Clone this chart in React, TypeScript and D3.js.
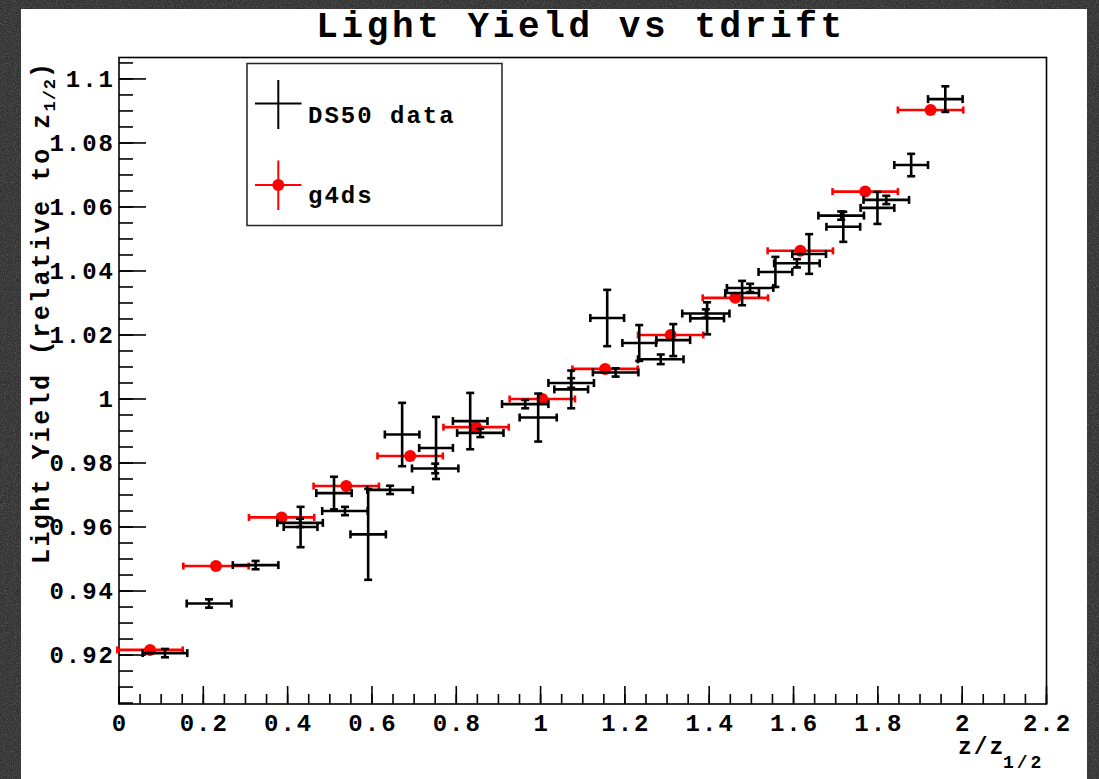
import React from "react";
import * as d3 from "d3";

// ---------------- data ----------------
const titleText = "Light Yield vs tdrift";

// DS50 data (fine-binned set: small vertical errors)
const dsFineX = [0.109, 0.2136, 0.324, 0.4295, 0.536, 0.643, 0.75, 0.857, 0.9635, 1.0726, 1.178, 1.285, 1.392, 1.497, 1.608, 1.713, 1.82];
const dsFineY = [0.9206, 0.9361, 0.9481, 0.9613, 0.965, 0.9716, 0.9783, 0.9894, 0.9984, 1.005, 1.0083, 1.0124, 1.0267, 1.0347, 1.0424, 1.0573, 1.0622];
const dsFineXErr = [0.053, 0.053, 0.054, 0.054, 0.054, 0.054, 0.055, 0.055, 0.055, 0.054, 0.054, 0.054, 0.056, 0.055, 0.054, 0.054, 0.054];
const dsFineYErr = [0.0013, 0.0013, 0.0013, 0.0013, 0.0013, 0.0013, 0.0015, 0.0013, 0.0013, 0.0015, 0.0013, 0.0015, 0.0013, 0.0013, 0.0013, 0.0013, 0.0013];

// DS50 data (second set: larger vertical errors)
const dsWideX = [0.4307, 0.51, 0.591, 0.6716, 0.752, 0.833, 0.9943, 1.0726, 1.158, 1.234, 1.3147, 1.395, 1.478, 1.557, 1.637, 1.718, 1.799, 1.879, 1.96];
const dsWideY = [0.96, 0.9706, 0.9577, 0.9889, 0.9847, 0.9931, 0.9942, 1.003, 1.0253, 1.0175, 1.0184, 1.0252, 1.0331, 1.0397, 1.0453, 1.0538, 1.0597, 1.0731, 1.0937];
const dsWideXErr = [0.04, 0.042, 0.042, 0.041, 0.04, 0.041, 0.044, 0.04, 0.04, 0.04, 0.04, 0.04, 0.04, 0.04, 0.04, 0.04, 0.04, 0.04, 0.041];
const dsWideYErr = [0.0063, 0.0051, 0.0142, 0.0099, 0.0097, 0.0088, 0.0075, 0.0059, 0.0088, 0.0056, 0.005, 0.005, 0.0038, 0.0047, 0.0062, 0.0047, 0.005, 0.0035, 0.004];

// g4ds simulation
const g4X = [0.0736, 0.23, 0.3857, 0.539, 0.6906, 0.847, 1.004, 1.153, 1.3085, 1.462, 1.616, 1.77, 1.925];
const g4Y = [0.9216, 0.9478, 0.963, 0.9728, 0.9822, 0.9912, 1.0, 1.0094, 1.02, 1.0316, 1.0463, 1.0648, 1.0903];
const g4XErr = [0.0775, 0.0775, 0.0775, 0.0775, 0.0775, 0.0775, 0.0775, 0.0775, 0.0775, 0.0775, 0.0775, 0.0775, 0.0775];
const g4YErr = [0.0004, 0.0004, 0.0004, 0.0004, 0.0004, 0.0004, 0.0004, 0.0004, 0.0004, 0.0004, 0.0004, 0.0004, 0.0004];

const legendLabels = ["DS50 data", "g4ds"];

const xTickValues = [0, 0.2, 0.4, 0.6, 0.8, 1, 1.2, 1.4, 1.6, 1.8, 2, 2.2];
const xTickLabels = ["0", "0.2", "0.4", "0.6", "0.8", "1", "1.2", "1.4", "1.6", "1.8", "2", "2.2"];
const yTickValues = [0.92, 0.94, 0.96, 0.98, 1.0, 1.02, 1.04, 1.06, 1.08, 1.1];
const yTickLabels = ["0.92", "0.94", "0.96", "0.98", "1", "1.02", "1.04", "1.06", "1.08", "1.1"];

const xDomain = [0, 2.2];
const yDomain = [0.9047, 1.1067];

// ---------------- layout ----------------
const W = 1099;
const H = 779;
const frame = { left: 119, right: 1046.5, top: 57.5, bottom: 704 };
const FONT = "'Liberation Mono', 'DejaVu Sans Mono', monospace";

type Pt = { x: number; y: number; ex: number; ey: number };

function ErrCross({ p, xs, ys, color, cap, sw }: { p: Pt; xs: any; ys: any; color: string; cap: number; sw: number }) {
  const cx = xs(p.x);
  const cy = ys(p.y);
  const x0 = xs(p.x - p.ex);
  const x1 = xs(p.x + p.ex);
  const y0 = ys(p.y - p.ey);
  const y1 = ys(p.y + p.ey);
  return (
    <g stroke={color} strokeWidth={sw} fill="none">
      <line x1={x0} y1={cy} x2={x1} y2={cy} />
      <line x1={x0} y1={cy - cap} x2={x0} y2={cy + cap} />
      <line x1={x1} y1={cy - cap} x2={x1} y2={cy + cap} />
      <line x1={cx} y1={y0} x2={cx} y2={y1} />
      <line x1={cx - cap} y1={y0} x2={cx + cap} y2={y0} />
      <line x1={cx - cap} y1={y1} x2={cx + cap} y2={y1} />
    </g>
  );
}

export default function App() {
  const xs = d3.scaleLinear().domain(xDomain).range([frame.left, frame.right]);
  const ys = d3.scaleLinear().domain(yDomain).range([frame.bottom, frame.top]);

  const ds: Pt[] = [
    ...dsFineX.map((x, i) => ({ x, y: dsFineY[i], ex: dsFineXErr[i], ey: dsFineYErr[i] })),
    ...dsWideX.map((x, i) => ({ x, y: dsWideY[i], ex: dsWideXErr[i], ey: dsWideYErr[i] })),
  ];
  const g4: Pt[] = g4X.map((x, i) => ({ x, y: g4Y[i], ex: g4XErr[i], ey: g4YErr[i] }));

  const xMinor = d3.range(0, 2.2001, 0.05);
  const yMinor = d3.range(0.905, 1.1066, 0.005);

  const lbl = { fontFamily: FONT, fontWeight: 700, fontSize: 24, letterSpacing: "2px", fill: "#000" } as const;

  return (
    <svg
      width={W}
      height={H}
      viewBox={`0 0 ${W} ${H}`}
      style={{ position: "absolute", left: 0, top: 0, display: "block" }}
    >
      <defs>
        <filter id="grain" x="0" y="0" width="100%" height="100%">
          <feTurbulence type="fractalNoise" baseFrequency="0.9" numOctaves="2" seed="3" stitchTiles="stitch" />
          <feColorMatrix type="matrix" values="0 0 0 0 0.5  0 0 0 0 0.5  0 0 0 0 0.5  0.7 0 0 0 -0.3" />
        </filter>
      </defs>
      {/* textured dark surround */}
      <rect x={0} y={0} width={W} height={H} fill="#333333" />
      <rect x={0} y={0} width={W} height={H} filter="url(#grain)" />
      {/* white canvas */}
      <rect x={21} y={9} width={1066} height={H - 9} fill="#ffffff" />

      {/* title */}
      <text x={581} y={37} textAnchor="middle" fontFamily={FONT} fontWeight={700} fontSize={36} letterSpacing="3.6px">
        {titleText}
      </text>

      {/* frame */}
      <rect
        x={frame.left}
        y={frame.top}
        width={frame.right - frame.left}
        height={frame.bottom - frame.top}
        fill="none"
        stroke="#000"
        strokeWidth={1.6}
      />

      {/* ticks */}
      <g stroke="#000" strokeWidth={1.6}>
        {xMinor.map((v, i) => (
          <line key={"xm" + i} x1={xs(v)} x2={xs(v)} y1={frame.bottom} y2={frame.bottom - 10} />
        ))}
        {xTickValues.map((v, i) => (
          <line key={"xM" + i} x1={xs(v)} x2={xs(v)} y1={frame.bottom} y2={frame.bottom - 18} />
        ))}
        {yMinor.map((v, i) => (
          <line key={"ym" + i} x1={frame.left} x2={frame.left + 14} y1={ys(v)} y2={ys(v)} />
        ))}
        {yTickValues.map((v, i) => (
          <line key={"yM" + i} x1={frame.left} x2={frame.left + 27} y1={ys(v)} y2={ys(v)} />
        ))}
      </g>
      {xTickValues.map((v, i) => (
        <text key={"xl" + i} x={xs(v) + 1} y={731} textAnchor="middle" {...lbl}>
          {xTickLabels[i]}
        </text>
      ))}
      {yTickValues.map((v, i) => (
        <text key={"yl" + i} x={115} y={ys(v) + 8} textAnchor="end" {...lbl}>
          {yTickLabels[i]}
        </text>
      ))}

      {/* axis titles */}
      <g fontFamily={FONT} fontWeight={700}>
        <text x={958} y={754} fontSize={23} letterSpacing="2px">z/z</text>
        <text x={1003} y={768} fontSize={18} letterSpacing="3px">1/2</text>
      </g>
      <g transform="translate(49,564) rotate(-90)" fontFamily={FONT} fontWeight={700}>
        <text x={0} y={0} fontSize={25} letterSpacing="2.4px">
          Light Yield (relative to z
          <tspan fontSize={17} dy={6} letterSpacing="1px">1/2</tspan>
          <tspan fontSize={25} dy={-6} letterSpacing="2.4px">)</tspan>
        </text>
      </g>

      {/* g4ds (drawn first) */}
      {g4.map((p, i) => (
        <g key={"g" + i}>
          <ErrCross p={p} xs={xs} ys={ys} color="#ff0000" cap={3.5} sw={2.6} />
          <circle cx={xs(p.x)} cy={ys(p.y)} r={6} fill="#ff0000" />
        </g>
      ))}

      {/* DS50 data */}
      {ds.map((p, i) => (
        <ErrCross key={"d" + i} p={p} xs={xs} ys={ys} color="#000" cap={4} sw={2.6} />
      ))}

      {/* legend */}
      <rect x={247} y={63.5} width={255} height={162} fill="#fff" stroke="#222" strokeWidth={1.5} />
      <g stroke="#000" strokeWidth={2}>
        <line x1={255} x2={301.5} y1={103.5} y2={103.5} />
        <line x1={278.3} x2={278.3} y1={80} y2={129} />
      </g>
      <g stroke="#ff0000" strokeWidth={2}>
        <line x1={255} x2={301.5} y1={185} y2={185} />
        <line x1={278.3} x2={278.3} y1={160.5} y2={210} />
      </g>
      <circle cx={278.3} cy={185} r={6} fill="#ff0000" />
      <text x={308} y={123} {...lbl}>{legendLabels[0]}</text>
      <text x={308} y={203} {...lbl}>{legendLabels[1]}</text>
    </svg>
  );
}
